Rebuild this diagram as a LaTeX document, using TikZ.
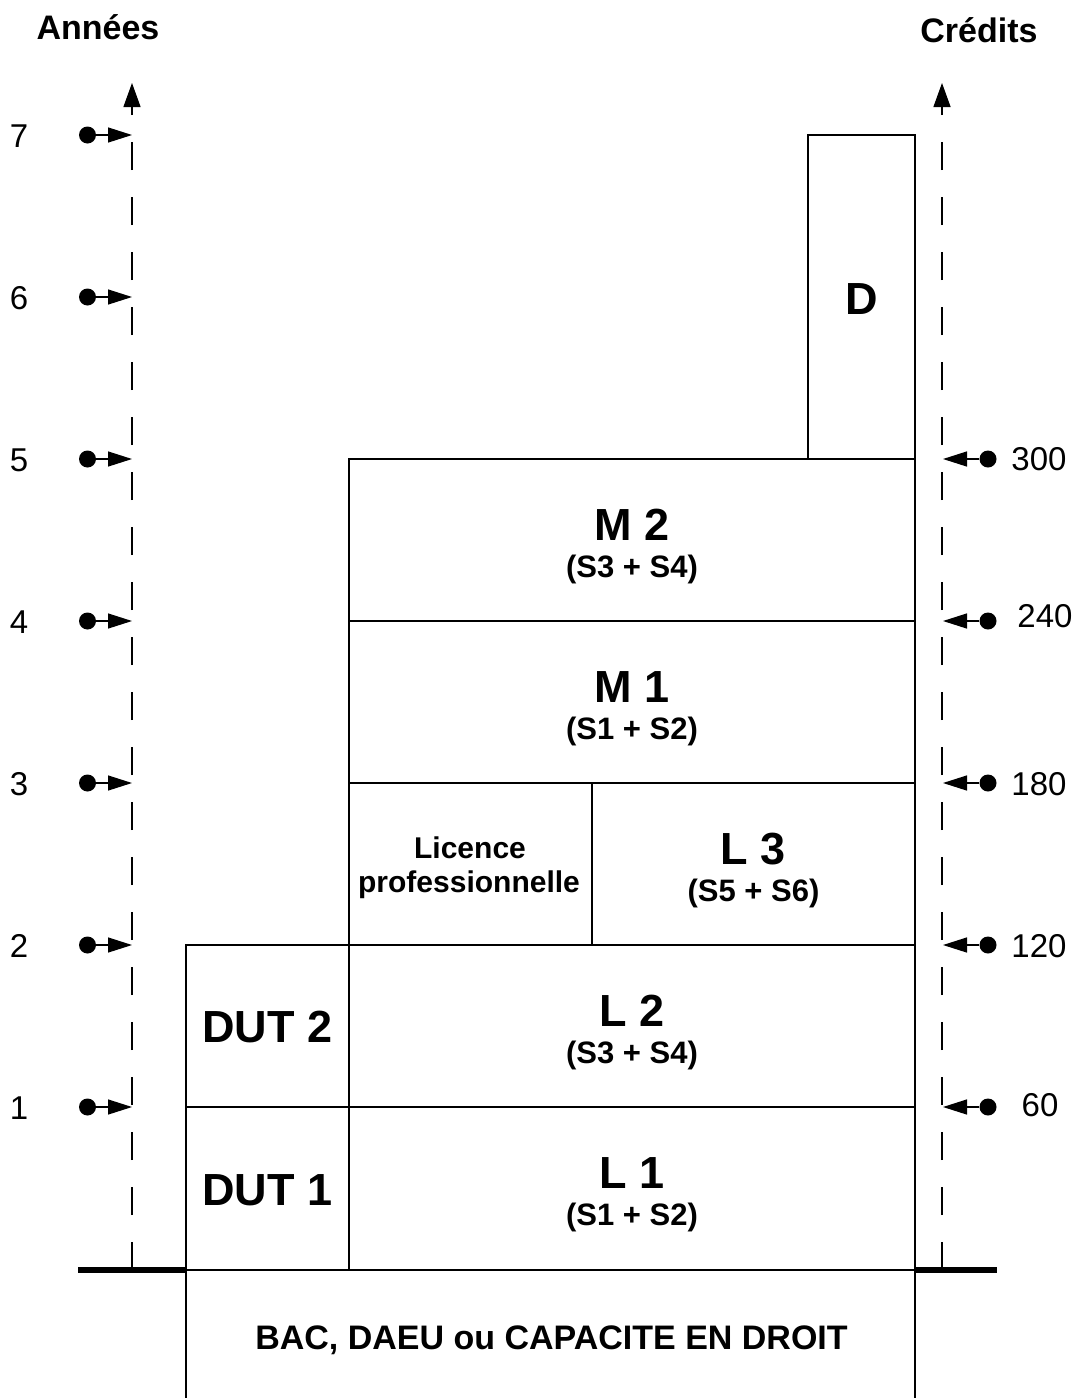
\documentclass[tikz,border=0pt]{standalone}
\usepackage{fontspec}
\setmainfont{Liberation Sans}
\usetikzlibrary{arrows.meta}

\begin{document}
\begin{tikzpicture}[x=1pt, y=-1pt,
		bloc/.style={draw, line width=1.3pt, rectangle, inner sep=0pt, outer sep=0pt, anchor=north west},
		titre/.style={anchor=base, font=\bfseries\fontsize{45}{54}\selectfont},
		sem/.style={anchor=base, font=\bfseries\fontsize{31}{37}\selectfont},
		axe/.style={line width=1.3pt, dash pattern=on 28pt off 27pt, -{Triangle[length=24pt, width=17pt]}},
		point/.style={circle, fill, inner sep=0pt, minimum size=17pt},
		fleche/.style={line width=1.3pt, -{Triangle[length=24pt, width=15pt]}},
		chiffre/.style={font=\fontsize{33}{40}\selectfont},
		sol/.style={line width=6.5pt}]
		\useasboundingbox (0,0) rectangle (1079,1398);
		% axes
		\node[anchor=base, font=\bfseries\fontsize{34}{41}\selectfont] (annees) at (98,39) {Années};
		\node[anchor=base, font=\bfseries\fontsize{34}{41}\selectfont] (credits) at (979,42) {Crédits};
		\coordinate (basA) at (132,1270);
		\coordinate (hautA) at (132,83);
		\coordinate (basC) at (942,1270);
		\coordinate (hautC) at (942,83);
		\draw[axe] (basA) -- (hautA);
		\draw[axe] (basC) -- (hautC);
		% blocs
		\node[bloc, minimum width=729pt, minimum height=132pt] (bac) at (186,1270) {};
		\node[bloc, minimum width=163pt, minimum height=163pt] (dutun) at (186,1107) {};
		\node[bloc, minimum width=163pt, minimum height=162pt] (dutdeux) at (186,945) {};
		\node[bloc, minimum width=566pt, minimum height=163pt] (lun) at (349,1107) {};
		\node[bloc, minimum width=566pt, minimum height=162pt] (ldeux) at (349,945) {};
		\node[bloc, minimum width=243pt, minimum height=162pt] (lpro) at (349,783) {};
		\node[bloc, minimum width=323pt, minimum height=162pt] (ltrois) at (592,783) {};
		\node[bloc, minimum width=566pt, minimum height=162pt] (mun) at (349,621) {};
		\node[bloc, minimum width=566pt, minimum height=162pt] (mdeux) at (349,459) {};
		\node[bloc, minimum width=107pt, minimum height=324pt] (doct) at (808,135) {};
		\coordinate (solA) at (78,1270);
		\coordinate (solC) at (997,1270);
		\draw[sol] (solA) -- (bac.north west);
		\draw[sol] (bac.north east) -- (solC);
		% textes
		\node[anchor=base, font=\bfseries\fontsize{34}{41}\selectfont] (bactxt) at (551.5,1349) {BAC, DAEU ou CAPACITE EN DROIT};
		\node[titre] (dutuntxt) at (267.5,1205) {DUT 1};
		\node[titre] (dutdeuxtxt) at (267.5,1042) {DUT 2};
		\node[titre] (luntxt) at (632,1188) {L 1};
		\node[sem] (lunsem) at (632,1225) {(S1 + S2)};
		\node[titre] (ldeuxtxt) at (632,1026) {L 2};
		\node[sem] (ldeuxsem) at (632,1063) {(S3 + S4)};
		\node[anchor=base, font=\bfseries\fontsize{30}{36}\selectfont] (lprotxt) at (470,858) {Licence};
		\node[anchor=base, font=\bfseries\fontsize{30}{36}\selectfont] (lprotxtb) at (469,892) {professionnelle};
		\node[titre] (ltroistxt) at (753.5,864) {L 3};
		\node[sem] (ltroissem) at (753.5,901) {(S5 + S6)};
		\node[titre] (muntxt) at (632,702) {M 1};
		\node[sem] (munsem) at (632,739) {(S1 + S2)};
		\node[titre] (mdeuxtxt) at (632,540) {M 2};
		\node[sem] (mdeuxsem) at (632,577) {(S3 + S4)};
		\node[titre] (docttxt) at (861.5,314) {D};
		% annees
		\node[chiffre] (an1) at (19,1108) {1};
		\node[chiffre] (an2) at (19,946) {2};
		\node[chiffre] (an3) at (19,784) {3};
		\node[chiffre] (an4) at (19,622) {4};
		\node[chiffre] (an5) at (19,460) {5};
		\node[chiffre] (an6) at (19,298) {6};
		\node[chiffre] (an7) at (19,136) {7};
		\node[point] (pa1) at (87.5,1107) {};
		\node[point] (pa2) at (87.5,945) {};
		\node[point] (pa3) at (87.5,783) {};
		\node[point] (pa4) at (87.5,621) {};
		\node[point] (pa5) at (87.5,459) {};
		\node[point] (pa6) at (87.5,297) {};
		\node[point] (pa7) at (87.5,135) {};
		\draw[fleche] (pa1) -- (132,1107);
		\draw[fleche] (pa2) -- (132,945);
		\draw[fleche] (pa3) -- (132,783);
		\draw[fleche] (pa4) -- (132,621);
		\draw[fleche] (pa5) -- (132,459);
		\draw[fleche] (pa6) -- (132,297);
		\draw[fleche] (pa7) -- (132,135);
		% credits
		\node[chiffre] (cr60) at (1040,1105) {60};
		\node[chiffre] (cr120) at (1039,946) {120};
		\node[chiffre] (cr180) at (1039,784) {180};
		\node[chiffre] (cr240) at (1045,616) {240};
		\node[chiffre] (cr300) at (1039,459) {300};
		\node[point] (pc60) at (988,1107) {};
		\node[point] (pc120) at (988,945) {};
		\node[point] (pc180) at (988,783) {};
		\node[point] (pc240) at (988,621) {};
		\node[point] (pc300) at (988,459) {};
		\draw[fleche] (pc60) -- (943,1107);
		\draw[fleche] (pc120) -- (943,945);
		\draw[fleche] (pc180) -- (943,783);
		\draw[fleche] (pc240) -- (943,621);
		\draw[fleche] (pc300) -- (943,459);
\end{tikzpicture}
\end{document}
